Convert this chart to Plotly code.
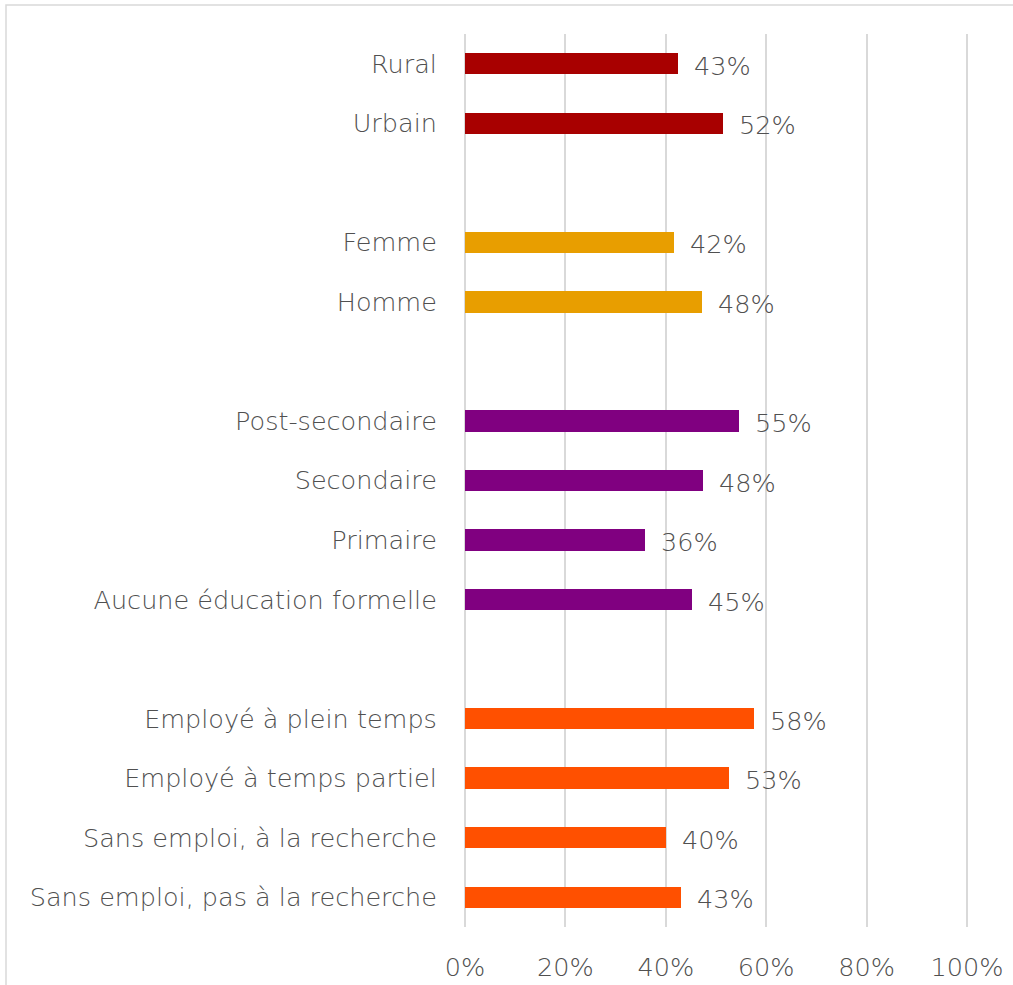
import plotly.graph_objects as go

# Data (top to bottom, grouped)
group_labels = [
    ["Rural", "Urbain"],
    ["Femme", "Homme"],
    ["Post-secondaire", "Secondaire", "Primaire", "Aucune éducation formelle"],
    ["Employé à plein temps", "Employé à temps partiel",
     "Sans emploi, à la recherche", "Sans emploi, pas à la recherche"],
]
group_values = [
    [0.424, 0.513],
    [0.416, 0.472],
    [0.545, 0.474, 0.358, 0.452],
    [0.575, 0.526, 0.400, 0.431],
]
group_texts = [
    ["43%", "52%"],
    ["42%", "48%"],
    ["55%", "48%", "36%", "45%"],
    ["58%", "53%", "40%", "43%"],
]
group_colors = ["#A80000", "#E89E00", "#800080", "#FF5000"]

x_ticks = [0, 0.2, 0.4, 0.6, 0.8, 1.0]
x_tick_text = ["0%", "20%", "40%", "60%", "80%", "100%"]

FONT = "DejaVu Sans, sans-serif"
TXT = "#505050"
FS = 25.5
FW = 200

fig = go.Figure()
annotations = []
tickvals, ticktext = [], []
pos = 0
for labels, vals, texts, col in zip(group_labels, group_values, group_texts, group_colors):
    ys = []
    for lab in labels:
        ys.append(pos)
        tickvals.append(pos)
        ticktext.append(lab)
        pos += 1
    pos += 1  # blank slot between groups
    fig.add_trace(go.Bar(
        x=vals, y=ys, orientation="h", marker=dict(color=col, line=dict(width=0)),
        width=0.36, showlegend=False, hoverinfo="skip",
    ))
    for v, y, t in zip(vals, ys, texts):
        annotations.append(dict(
            x=v, y=y, xref="x", yref="y", text=t, showarrow=False,
            xanchor="left", yanchor="middle", xshift=14, yshift=-2,
            font=dict(family=FONT, size=FS, color=TXT, weight=FW),
        ))

n_slots = pos - 1  # last group has no trailing gap
fig.update_layout(
    width=1013, height=985,
    margin=dict(l=465, r=41, t=34, b=58, autoexpand=False),
    paper_bgcolor="white", plot_bgcolor="white",
    bargap=0,
    annotations=annotations,
    font=dict(family=FONT, size=FS, color=TXT, weight=FW),
    shapes=[dict(
        type="rect", xref="paper", yref="paper",
        x0=(6 - 465) / 507, x1=2.0, y0=-1.0, y1=(927 - 5) / 893,
        line=dict(color="#D9D9D9", width=1.5), fillcolor="rgba(0,0,0,0)", layer="below",
    )],
)
fig.update_xaxes(
    range=[0, 1.01], tickvals=x_ticks, ticktext=x_tick_text,
    showgrid=True, gridcolor="#D9D9D9", gridwidth=1.5,
    zeroline=True, zerolinecolor="#D9D9D9", zerolinewidth=1.5, showline=False,
    ticks="outside", ticklen=17, tickcolor="rgba(0,0,0,0)",
    tickfont=dict(family=FONT, size=FS, color=TXT, weight=FW),
    automargin=False, fixedrange=True,
)
fig.update_yaxes(
    range=[n_slots - 0.5, -0.5], tickvals=tickvals, ticktext=ticktext,
    showgrid=False, zeroline=False, showline=False,
    ticks="outside", ticklen=22, tickcolor="rgba(0,0,0,0)",
    tickfont=dict(family=FONT, size=FS, color=TXT, weight=FW),
    automargin=False, fixedrange=True,
)
fig.write_html("out.html")
